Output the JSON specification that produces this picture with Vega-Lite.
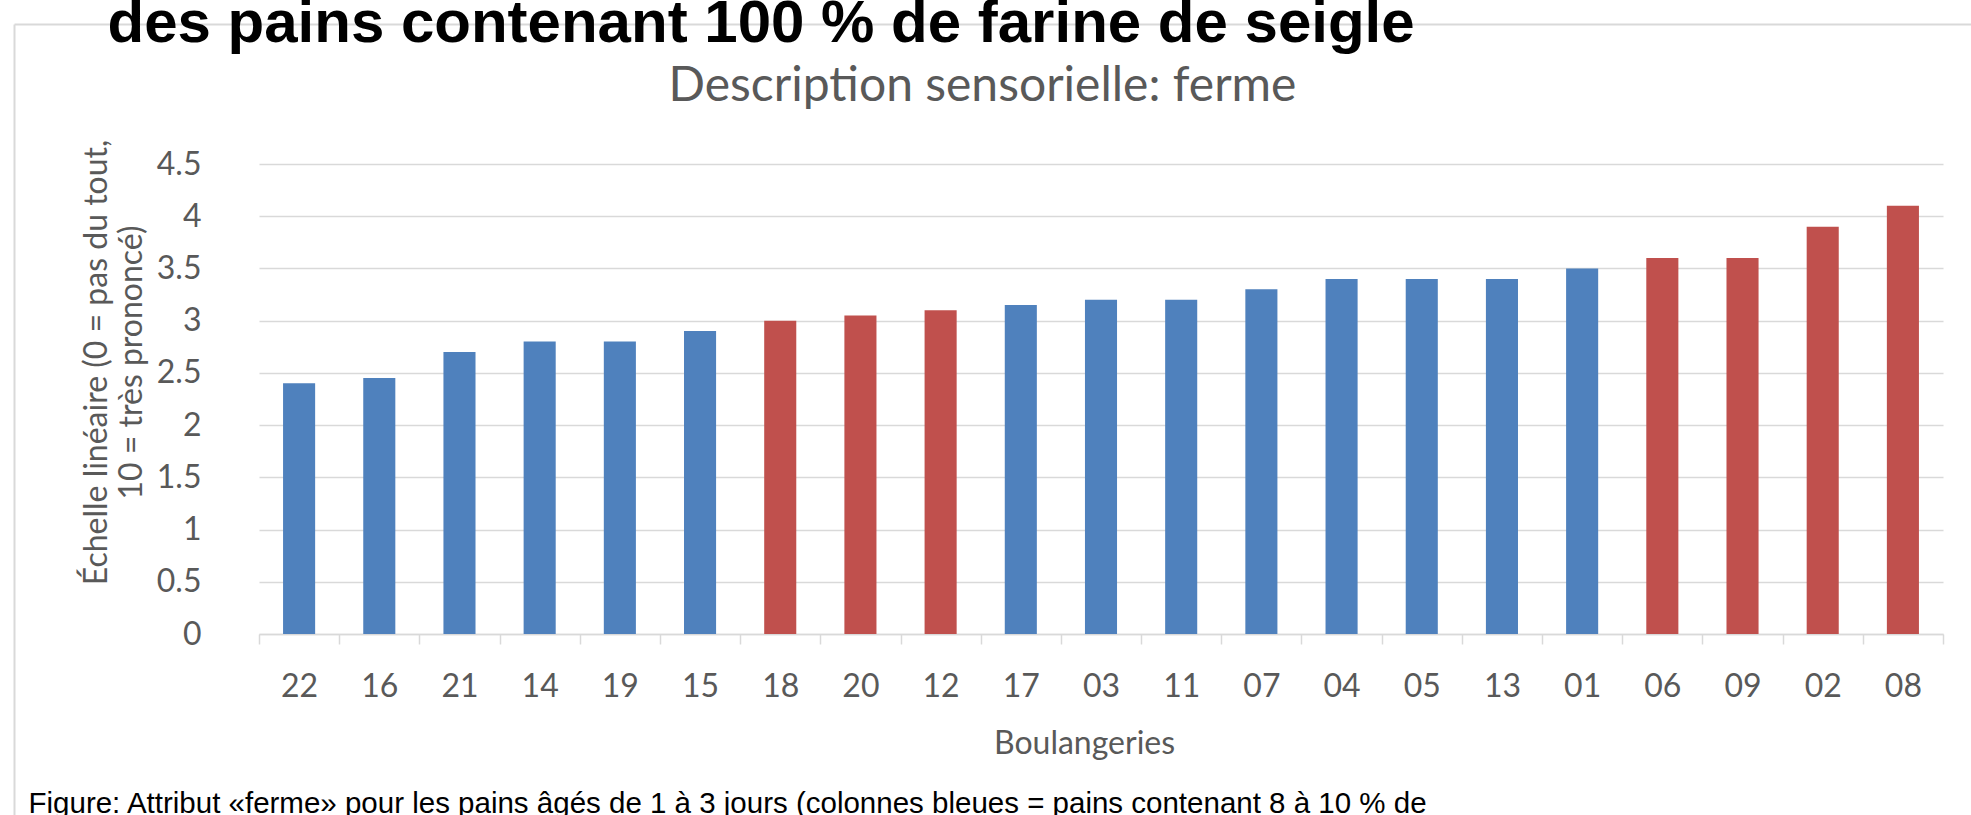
{
  "$schema": "https://vega.github.io/schema/vega-lite/v6.json",
  "width": 1684,
  "height": 470,
  "autosize": {"type": "none"},
  "padding": {"left": 259, "top": 164, "right": 28, "bottom": 181},
  "background": "white",
  "config": {"view": {"stroke": null}},
  "data": {
    "values": [
      {"b": "22", "v": 2.4, "g": "8 à 10 %"},
      {"b": "16", "v": 2.45, "g": "8 à 10 %"},
      {"b": "21", "v": 2.7, "g": "8 à 10 %"},
      {"b": "14", "v": 2.8, "g": "8 à 10 %"},
      {"b": "19", "v": 2.8, "g": "8 à 10 %"},
      {"b": "15", "v": 2.9, "g": "8 à 10 %"},
      {"b": "18", "v": 3.0, "g": "100 %"},
      {"b": "20", "v": 3.05, "g": "100 %"},
      {"b": "12", "v": 3.1, "g": "100 %"},
      {"b": "17", "v": 3.15, "g": "8 à 10 %"},
      {"b": "03", "v": 3.2, "g": "8 à 10 %"},
      {"b": "11", "v": 3.2, "g": "8 à 10 %"},
      {"b": "07", "v": 3.3, "g": "8 à 10 %"},
      {"b": "04", "v": 3.4, "g": "8 à 10 %"},
      {"b": "05", "v": 3.4, "g": "8 à 10 %"},
      {"b": "13", "v": 3.4, "g": "8 à 10 %"},
      {"b": "01", "v": 3.5, "g": "8 à 10 %"},
      {"b": "06", "v": 3.6, "g": "100 %"},
      {"b": "09", "v": 3.6, "g": "100 %"},
      {"b": "02", "v": 3.9, "g": "100 %"},
      {"b": "08", "v": 4.1, "g": "100 %"}
    ]
  },
  "resolve": {
    "scale": {"x": "independent", "y": "independent"},
    "axis": {"x": "independent", "y": "independent"}
  },
  "layer": [
    {
      "mark": {"type": "bar", "opacity": 0},
      "encoding": {
        "x": {
          "field": "b", "type": "nominal", "sort": null,
          "scale": {"range": [-245, 1720]},
          "axis": {
            "orient": "top", "offset": 140, "labels": false, "ticks": false, "grid": false,
            "domain": true, "domainColor": "#D9D9D9", "domainWidth": 2,
            "title": "des pains contenant 100 % de farine de seigle",
            "titleFont": "Liberation Sans", "titleFontSize": 60, "titleFontWeight": "bold", "titleColor": "#000000",
            "titleAlign": "left", "titleBaseline": "alphabetic",
            "titleX": -152, "titleY": 17
          }
        },
        "y": {
          "field": "v", "type": "quantitative",
          "scale": {"range": [660, -140]},
          "axis": {
            "orient": "left", "offset": 245, "labels": false, "ticks": false, "grid": false,
            "domain": true, "domainColor": "#D9D9D9", "domainWidth": 2, "title": null
          }
        }
      }
    },
    {
      "mark": {"type": "bar", "width": {"band": 0.4}},
      "encoding": {
        "x": {
          "field": "b", "type": "nominal", "sort": null,
          "scale": {"paddingInner": 0, "paddingOuter": 0},
          "axis": {
            "orient": "bottom",
            "domainColor": "#D9D9D9", "domainWidth": 1.5,
            "ticks": true, "tickColor": "#D9D9D9", "tickWidth": 1.5, "tickSize": 10, "tickBand": "extent",
            "labelAngle": 0, "labelFont": "Lato", "labelFontSize": 32, "labelColor": "#595959", "labelPadding": 27,
            "grid": false,
            "title": "Boulangeries", "titleFont": "Lato", "titleFontSize": 32, "titleFontWeight": "normal",
            "titleColor": "#595959", "titleBaseline": "alphabetic", "titleAlign": "center",
            "titleX": 825, "titleY": 119
          }
        },
        "y": {
          "field": "v", "type": "quantitative",
          "scale": {"domain": [0, 4.5], "nice": false, "zero": true},
          "axis": {
            "orient": "left",
            "values": [0, 0.5, 1, 1.5, 2, 2.5, 3, 3.5, 4, 4.5],
            "format": "~g",
            "domain": false, "ticks": false, "tickSize": 0,
            "grid": true, "gridColor": "#D9D9D9", "gridWidth": 1.5,
            "labelFont": "Lato", "labelFontSize": 32, "labelColor": "#595959", "labelPadding": 58,
            "title": ["Échelle linéaire  (0 = pas du tout,", "10 = très prononcé)"],
            "titleFont": "Lato", "titleFontSize": 32, "titleFontWeight": "normal", "titleColor": "#595959",
            "titleLineHeight": 35, "titleAngle": -90, "titleAlign": "center", "titleBaseline": "alphabetic",
            "titleX": -153, "titleY": 198
          }
        },
        "color": {
          "field": "g", "type": "nominal",
          "scale": {"domain": ["8 à 10 %", "100 %"], "range": ["#4F81BD", "#C0504D"]},
          "legend": null
        }
      }
    },
    {
      "mark": {"type": "bar", "opacity": 0, "width": {"band": 0.4}},
      "encoding": {
        "x": {
          "field": "b", "type": "nominal", "sort": null,
          "axis": {
            "orient": "top", "labels": false, "ticks": false, "domain": false, "grid": false,
            "title": "Description sensorielle: ferme",
            "titleFont": "Lato", "titleFontSize": 48, "titleFontWeight": "normal", "titleColor": "#595959",
            "titleAlign": "center", "titleBaseline": "alphabetic",
            "titleX": 723, "titleY": -64
          }
        },
        "y": {
          "field": "v", "type": "quantitative",
          "axis": {
            "orient": "right", "labels": false, "ticks": false, "domain": false, "grid": false,
            "title": "Figure: Attribut «ferme» pour les pains âgés de 1 à 3 jours (colonnes bleues = pains contenant 8 à 10 % de",
            "titleFont": "Liberation Sans", "titleFontSize": 29.5, "titleFontWeight": "normal", "titleColor": "#000000",
            "titleAngle": 0, "titleAlign": "left", "titleBaseline": "alphabetic",
            "titleX": -1915, "titleY": 648
          }
        }
      }
    }
  ]
}
